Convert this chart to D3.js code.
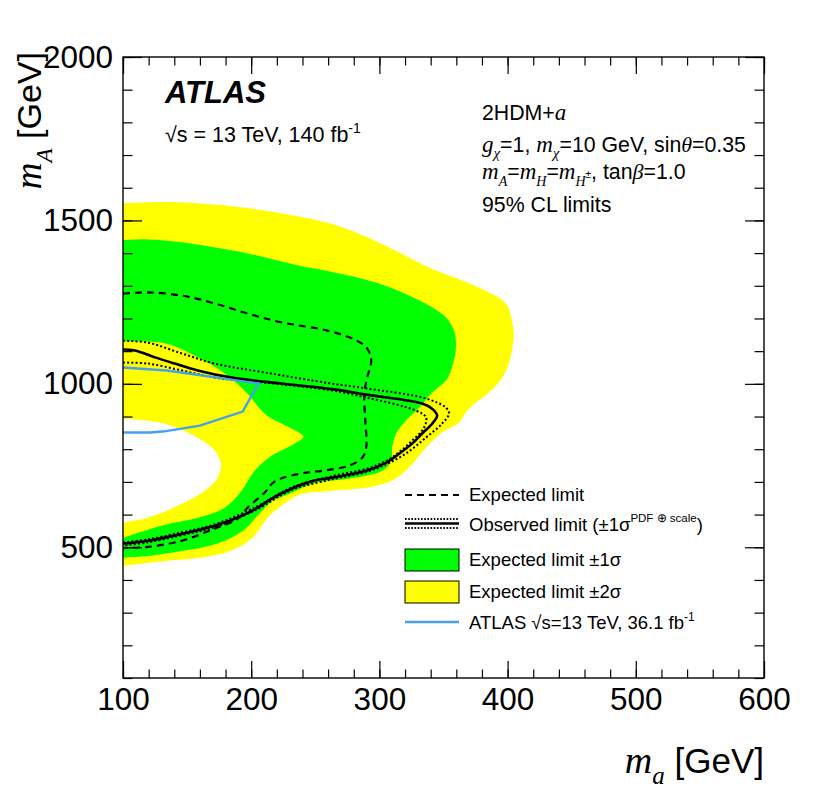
<!DOCTYPE html>
<html>
<head>
<meta charset="utf-8">
<script src="https://cdn.jsdelivr.net/npm/d3@7"></script>
<style>
  body { margin: 0; background: #fff; }
  text { font-family: "Liberation Sans", Arial, Helvetica, sans-serif; fill: #000; }
  .it { font-family: "Liberation Serif", "Times New Roman", serif; font-style: italic; }
</style>
</head>
<body>
<svg id="chart" width="822" height="798"></svg>
<script>
// axis values
const xMajor = [100, 200, 300, 400, 500, 600];
const yMajor = [500, 1000, 1500, 2000];
const xMinor = d3.range(100, 601, 20);
const yMinor = d3.range(100, 2001, 100);

// contours [m_a, m_A] in GeV
const plus2Sigma = [
  [100, 1552], [128.8, 1556], [159.9, 1552], [198.8, 1537], [261, 1491], [299.8, 1432],
  [338.7, 1356], [377.6, 1295], [398.6, 1246], [403.3, 1194], [404.8, 1148], [400.9, 1062],
  [395.5, 1016], [385.4, 973], [375.3, 943], [368.3, 918], [362, 881], [348.8, 851],
  [336.4, 805], [323.2, 744], [310, 704], [289.7, 682], [263.3, 673], [237.6, 661],
  [223.6, 627], [212, 587], [201.1, 529], [185.5, 492], [159.9, 468], [134.2, 459], [100, 443]
];
const minus2Sigma = [
  [100, 894], [132.7, 878], [158.3, 835], [171.5, 796], [176.2, 756], [173.9, 713],
  [163.8, 673], [145.9, 633], [119.4, 590], [100, 575]
];
const plus1Sigma = [
  [100, 1439], [119.4, 1442], [145.9, 1433], [197.2, 1399], [236.1, 1363], [264.9, 1341],
  [299.8, 1307], [338.7, 1240], [351.9, 1203], [358.2, 1163], [359.7, 1111], [356.6, 1050],
  [351.9, 1010], [341.1, 973], [331, 927], [320.8, 888], [313.1, 848], [310, 805],
  [309.2, 765], [302.2, 734], [276.5, 710], [250.9, 698], [228.3, 661], [216.6, 642],
  [206.5, 603], [193.3, 550], [173.1, 511], [146.7, 489], [121, 474], [100, 468]
];
const minus1Sigma = [
  [100, 1130], [132.7, 1124], [158.3, 1081], [179.3, 1032], [197.2, 970], [208.1, 918],
  [215.9, 894], [231.4, 863], [240.7, 838], [233.7, 817], [215.9, 780], [202.6, 734],
  [192.5, 673], [179.3, 621], [158.3, 590], [132.7, 569], [100, 529]
];
const expected = [
  [100, 1276], [119.4, 1280], [145.9, 1270], [171.5, 1246], [197.2, 1215], [223.6, 1188],
  [259.4, 1163], [282, 1133], [290.5, 1108], [293.6, 1071], [290.5, 1019], [288.2, 970],
  [289, 888], [289.7, 805], [286.6, 774], [276.5, 750], [255.5, 734], [237.6, 725],
  [218.2, 701], [210.4, 667], [197.2, 621], [189.4, 587], [171.5, 557], [145.9, 520],
  [119.4, 501], [100, 498]
];
const observed = [
  [100, 1105], [109.3, 1102], [124.9, 1081], [140.4, 1062], [158.3, 1041], [184.8, 1019],
  [223.6, 1001], [264.9, 983], [289.7, 967], [333.3, 940], [341.1, 924], [345, 903],
  [341.1, 878], [333.3, 848], [325.5, 817], [315.4, 786], [305.3, 759], [289.7, 734],
  [263.3, 713], [249.3, 704], [231.4, 679], [215.9, 649], [205, 621], [192.5, 596],
  [171.5, 566], [145.9, 541], [119.4, 520], [100, 511]
];
const observedUp = [
  [100, 1132], [119.4, 1126], [145.9, 1093], [171.5, 1062], [210.4, 1035], [262.5, 1001],
  [289.7, 986], [336.4, 955], [351.9, 927], [354.3, 909], [348.8, 878], [336.4, 836],
  [320.8, 787], [305.3, 754], [289.7, 730], [263.3, 708], [231.4, 675], [205, 617],
  [171.5, 561], [145.9, 537], [119.4, 515], [100, 506]
];
const observedDown = [
  [100, 1065], [119.4, 1062], [145.9, 1041], [171.5, 1019], [210.4, 1004], [262.5, 980],
  [289.7, 958], [328.6, 918], [336.4, 897], [334.8, 866], [325.5, 826], [315.4, 791],
  [305.3, 764], [289.7, 740], [263.3, 718], [231.4, 683], [205, 626], [171.5, 570],
  [145.9, 546], [119.4, 524], [100, 515]
];
const atlas2016 = [
  [100, 1050], [134.2, 1041], [205.8, 1001], [193.3, 915], [160, 872], [131, 854],
  [121, 851], [100, 851]
];

const svg = d3.select("#chart");
const x = d3.scaleLinear().domain([100, 600]).range([123, 764]);
const y = d3.scaleLinear().domain([100, 2000]).range([678, 57]);

svg.append("defs").append("clipPath").attr("id", "plot")
  .append("rect")
  .attr("x", x(100)).attr("y", y(2000))
  .attr("width", x(600) - x(100)).attr("height", y(100) - y(2000));

const smooth = d3.line().x((d) => x(d[0])).y((d) => y(d[1])).curve(d3.curveCatmullRom.alpha(0.5));
const straight = d3.line().x((d) => x(d[0])).y((d) => y(d[1]));

const area = svg.append("g").attr("clip-path", "url(#plot)");
// bands: outer fill then inner cut-outs, each closed along the left edge
[
  [plus2Sigma, "#ffff00"],
  [plus1Sigma, "#00ff00"],
  [minus1Sigma, "#ffff00"],
  [minus2Sigma, "#ffffff"],
].forEach(([pts, col]) => {
  area.append("path").attr("d", smooth(pts) + "Z").attr("fill", col).attr("stroke", "none");
});

area.append("path").attr("d", smooth(expected))
  .attr("fill", "none").attr("stroke", "#000").attr("stroke-width", 2.2).attr("stroke-dasharray", "7,5");
[observedUp, observedDown].forEach((pts) => {
  area.append("path").attr("d", smooth(pts))
    .attr("fill", "none").attr("stroke", "#000").attr("stroke-width", 2).attr("stroke-dasharray", "2,2.2");
});
area.append("path").attr("d", smooth(observed))
  .attr("fill", "none").attr("stroke", "#000").attr("stroke-width", 2.6);
area.append("path").attr("d", straight(atlas2016))
  .attr("fill", "none").attr("stroke", "#48a0ea").attr("stroke-width", 2.4);

// axes, ROOT style: ticks inside on all four sides
const styleAxis = (g) => {
  g.select(".domain").remove();
  g.selectAll("line").attr("stroke", "#000").attr("stroke-width", 1.2);
  g.selectAll("text").style("font-size", "31.5px").attr("fill", "#000");
};
svg.append("g").attr("transform", `translate(0,${y(100)})`)
  .call(d3.axisBottom(x).tickValues(xMajor).tickSize(-17).tickPadding(9.5).tickFormat(d3.format("d")))
  .call(styleAxis).attr("font-family", null);
svg.append("g").attr("transform", `translate(0,${y(100)})`)
  .call(d3.axisBottom(x).tickValues(xMinor).tickSize(-8.5).tickFormat(""))
  .call(styleAxis);
svg.append("g").attr("transform", `translate(0,${y(2000)})`)
  .call(d3.axisTop(x).tickValues(xMajor).tickSize(-17).tickFormat(""))
  .call(styleAxis);
svg.append("g").attr("transform", `translate(0,${y(2000)})`)
  .call(d3.axisTop(x).tickValues(xMinor).tickSize(-8.5).tickFormat(""))
  .call(styleAxis);
svg.append("g").attr("transform", `translate(${x(100)},0)`)
  .call(d3.axisLeft(y).tickValues(yMajor).tickSize(-19).tickPadding(10).tickFormat(d3.format("d")))
  .call(styleAxis).attr("font-family", null);
svg.append("g").attr("transform", `translate(${x(100)},0)`)
  .call(d3.axisLeft(y).tickValues(yMinor).tickSize(-9.5).tickFormat(""))
  .call(styleAxis);
svg.append("g").attr("transform", `translate(${x(600)},0)`)
  .call(d3.axisRight(y).tickValues(yMajor).tickSize(-19).tickFormat(""))
  .call(styleAxis);
svg.append("g").attr("transform", `translate(${x(600)},0)`)
  .call(d3.axisRight(y).tickValues(yMinor).tickSize(-9.5).tickFormat(""))
  .call(styleAxis);

svg.append("rect")
  .attr("x", x(100)).attr("y", y(2000))
  .attr("width", x(600) - x(100)).attr("height", y(100) - y(2000))
  .attr("fill", "none").attr("stroke", "#000").attr("stroke-width", 1.4);

// rich text: parts = [text, {it, sub, sup, size}]
const rich = (parent, px, py, size, parts, anchor = "start") => {
  const t = parent.append("text").attr("x", px).attr("y", py)
    .attr("text-anchor", anchor).style("font-size", size + "px");
  let shift = 0;
  parts.forEach(([str, o = {}]) => {
    const want = o.sub ? size * (o.subAmt || 0.32) : o.sup ? -size * (o.supAmt || 0.42) : 0;
    const s = t.append("tspan").text(str).attr("dy", want - shift);
    shift = want;
    if (o.it) s.attr("class", "it");
    if (o.size) s.style("font-size", o.size + "px");
    else if (o.sub || o.sup) s.style("font-size", size * 0.68 + "px");
  });
  return t;
};

// axis titles
rich(svg, 764, 773, 35, [["m", { it: true, size: 38 }], ["a", { it: true, sub: true, size: 25 }], [" [GeV]"]], "end");
const yt = svg.append("g").attr("transform", "translate(41,52) rotate(-90)");
rich(yt, 0, 0, 34, [["m", { it: true, size: 37 }], ["A", { it: true, sub: true, size: 23 }], [" [GeV]"]], "end");

// ATLAS label
svg.append("text").attr("x", 165).attr("y", 103)
  .style("font-size", "31px").style("font-weight", "bold").style("font-style", "italic")
  .text("ATLAS");
rich(svg, 165, 142, 21.5, [["√s = 13 TeV, 140 fb"], ["-1", { sup: true, size: 14 }]]);

// model info
rich(svg, 482, 120, 21.3, [["2HDM+"], ["a", { it: true, size: 23 }]]);
rich(svg, 482, 152, 21.3, [
  ["g", { it: true, size: 23 }], ["χ", { it: true, sub: true, subAmt: 0.26, size: 15 }], ["=1, "],
  ["m", { it: true, size: 23 }], ["χ", { it: true, sub: true, subAmt: 0.26, size: 15 }], ["=10 GeV, sin"],
  ["θ", { it: true, size: 22 }], ["=0.35"]
]);
rich(svg, 482, 179, 21.3, [
  ["m", { it: true, size: 23 }], ["A", { it: true, sub: true, size: 14 }], ["="],
  ["m", { it: true, size: 23 }], ["H", { it: true, sub: true, size: 14 }], ["="],
  ["m", { it: true, size: 23 }], ["H", { it: true, sub: true, size: 14 }],
  ["±", { sup: true, supAmt: 0.05, size: 10 }], [", tan"], ["β", { it: true, size: 22 }], ["=1.0"]
]);
rich(svg, 482, 212, 21.3, [["95% CL limits"]]);

// legend
const leg = svg.append("g");
const lx0 = 405, lx1 = 459, tx = 469;
leg.append("line").attr("x1", lx0).attr("x2", lx1).attr("y1", 495).attr("y2", 495)
  .attr("stroke", "#000").attr("stroke-width", 2.2).attr("stroke-dasharray", "7,5");
rich(leg, tx, 501, 18.5, [["Expected limit"]]);

[519, 528].forEach((yy) => {
  leg.append("line").attr("x1", lx0).attr("x2", lx1).attr("y1", yy).attr("y2", yy)
    .attr("stroke", "#000").attr("stroke-width", 1.8).attr("stroke-dasharray", "1.6,1.6");
});
leg.append("line").attr("x1", lx0).attr("x2", lx1).attr("y1", 523.5).attr("y2", 523.5)
  .attr("stroke", "#000").attr("stroke-width", 2.6);
rich(leg, tx, 531, 18.5, [["Observed limit (±1σ"], ["PDF ⊕ scale", { sup: true, supAmt: 0.5, size: 11.5 }], [")"]]);

leg.append("rect").attr("x", lx0).attr("y", 549).attr("width", lx1 - lx0).attr("height", 22)
  .attr("fill", "#00ff00").attr("stroke", "#000").attr("stroke-width", 1);
rich(leg, tx, 566, 18.5, [["Expected limit ±1σ"]]);

leg.append("rect").attr("x", lx0).attr("y", 581).attr("width", lx1 - lx0).attr("height", 22)
  .attr("fill", "#ffff00").attr("stroke", "#000").attr("stroke-width", 1);
rich(leg, tx, 598, 18.5, [["Expected limit ±2σ"]]);

leg.append("line").attr("x1", lx0).attr("x2", lx1).attr("y1", 622).attr("y2", 622)
  .attr("stroke", "#48a0ea").attr("stroke-width", 2.4);
rich(leg, tx, 629, 18.5, [["ATLAS √s=13 TeV, 36.1 fb"], ["-1", { sup: true, size: 12 }]]);
</script>
</body>
</html>
